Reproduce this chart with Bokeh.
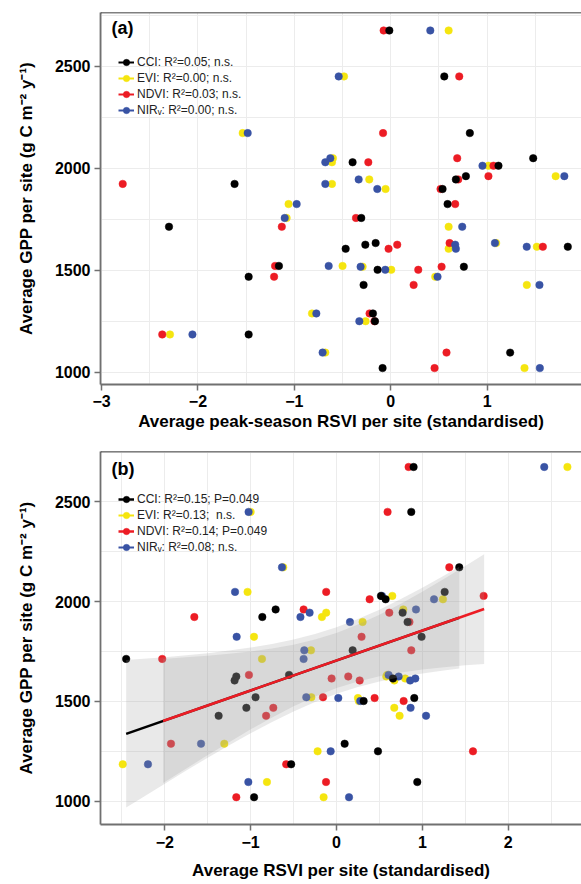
from bokeh.plotting import figure
from bokeh.models import FixedTicker, Legend, LegendItem, Span, Label
from bokeh.layouts import column
from bokeh.embed import file_html
from bokeh.resources import INLINE

# ---------------- data ----------------
indices = ["CCI", "EVI", "NDVI", "NIRv"]
colors = {"CCI": "#000000", "EVI": "#F5E50F", "NDVI": "#EC1C24", "NIRv": "#3953A4"}
draw_order = ["EVI", "NDVI", "NIRv", "CCI"]

labels_a = ["CCI: R²=0.05; n.s.", "EVI: R²=0.00; n.s.", "NDVI: R²=0.03; n.s.", "NIRᵥ: R²=0.00; n.s."]
labels_b = ["CCI: R²=0.15; P=0.049", "EVI: R²=0.13;  n.s.", "NDVI: R²=0.14; P=0.049", "NIRᵥ: R²=0.08; n.s."]

# average GPP per site (g C m-2 y-1)
gpp = [2675, 2450, 2172, 2049, 2029, 2012, 1961, 1945, 1923, 1898, 1824, 1756, 1713,
       1633, 1625, 1615, 1605, 1521, 1517, 1502, 1468, 1428, 1288, 1250, 1185, 1096, 1020]

# panel (a): average peak-season RSVI (standardised)
peak_cci = [-0.015, 0.555, 0.82, 1.477, -0.396, 1.117, 0.779, 0.675, -1.62, 0.537, 0.589, -0.306, -2.30,
            -0.157, -0.264, 1.836, -0.468, -1.16, 0.758, -0.137, -1.474, -0.282, -0.185, -0.164, -1.474, 1.238, -0.085]
peak_evi = [0.60, -0.485, -1.536, -0.60, -0.61, 1.013, 1.71, -0.223, -0.61, -0.054, -1.06, -1.08, 0.60,
            1.093, 0.63, 1.515, 0.60, -0.50, -0.292, 0.005, 0.461, 1.411, -0.817, -0.261, -2.29, -0.679, 1.387]
peak_ndvi = [-0.074, 0.71, -0.08, 0.689, -0.233, 1.065, 1.013, 0.70, -2.78, 0.516, 0.668, -0.361, -1.13,
             0.61, 0.067, 1.577, -0.023, -1.20, 0.527, 0.285, -1.21, 0.237, -0.22, -0.17, -2.37, 0.578, 0.454]
peak_nirv = [0.41, -0.54, -1.484, -0.627, -0.679, 0.951, 1.80, -0.333, -0.679, -0.14, -0.976, -1.10, 0.741,
             1.08, 0.668, 1.41, 0.675, -0.644, -0.313, -0.057, 0.485, 1.542, -0.772, -0.326, -2.057, -0.707, 1.546]

# panel (b): average RSVI (standardised)
mean_cci = [0.898, 0.871, 1.43, 1.26, 0.518, 0.572, -0.709, 0.77, -0.864, 0.828, 0.991, 0.188, -2.45,
            -0.553, -1.167, 0.658, -1.187, -0.943, 0.906, 0.316, -1.05, -1.373, 0.095, 0.483, -0.528, 0.941, -0.96]
mean_evi = [2.69, -1.00, -0.62, -1.036, 0.65, 1.24, 0.778, -0.12, -0.17, 0.304, -0.961, -0.297, -0.868,
            0.59, 0.58, 0.80, 0.674, -0.293, 0.25, 0.26, 0.673, 0.735, -1.307, -0.22, -2.49, -0.81, -0.15]
mean_ndvi = [0.84, 0.595, 1.314, -0.12, 1.714, 0.386, -0.383, 0.615, -1.656, 0.85, 0.292, 0.871, -2.03,
             -1.02, 0.137, -0.057, 0.27, -0.157, 0.444, 0.782, -0.736, -0.82, -1.928, 1.59, -0.586, -0.122, -1.167]
mean_nirv = [2.42, -1.024, -0.635, -1.182, 0.53, 1.136, 0.926, -0.313, -0.42, 0.157, -1.163, -0.375, -0.383,
             0.607, 0.724, 0.918, 0.858, -0.352, 0.021, 0.277, 0.863, 1.043, -1.578, -0.068, -2.196, -1.027, 0.146]

# fitted lines and confidence ribbons in panel (b)
cci_fit_x = [-2.45, 1.43]
cci_fit_y = [1337.5, 1919.5]
ndvi_fit_x = [-2.02, 1.72]
ndvi_fit_y = [1402, 1963]
cci_band_x = [-2.45, -2.25, -2.0, -1.75, -1.5, -1.25, -1.0, -0.75, -0.5, -0.25, 0.0, 0.25, 0.5, 0.75, 1.0, 1.25, 1.43]
cci_band_lo = [968, 1021, 1088, 1154, 1218, 1280, 1340, 1397, 1450, 1497, 1538, 1572, 1600, 1622, 1640, 1655, 1665]
cci_band_hi = [1708, 1714, 1722, 1732, 1742, 1755, 1770, 1788, 1810, 1838, 1872, 1913, 1960, 2013, 2070, 2130, 2175]
ndvi_band_x = [-2.02, -1.75, -1.5, -1.25, -1.0, -0.75, -0.5, -0.25, 0.0, 0.25, 0.5, 0.75, 1.0, 1.25, 1.5, 1.72]
ndvi_band_lo = [1091, 1164, 1231, 1296, 1360, 1420, 1476, 1525, 1567, 1600, 1626, 1645, 1660, 1671, 1681, 1688]
ndvi_band_hi = [1713, 1721, 1729, 1739, 1750, 1765, 1784, 1810, 1843, 1885, 1934, 1990, 2050, 2114, 2179, 2238]

y_ticks = [1000, 1500, 2000, 2500]
y_minor = [1250, 1750, 2250, 2750]
xa_ticks = [-3, -2, -1, 0, 1, 2]
xa_minor = [-2.5, -1.5, -0.5, 0.5, 1.5]
xb_ticks = [-2, -1, 0, 1, 2]
xb_minor = [-2.5, -1.5, -0.5, 0.5, 1.5, 2.5]

ylab = "Average GPP per site (g C m⁻² y⁻¹)"
xlab_a = "Average peak-season RSVI per site (standardised)"
xlab_b = "Average RSVI per site (standardised)"

FONT = "Liberation Sans"
AX = "#707070"
GRID = "#ececec"
NAN = float("nan")


def make_fig(xr, yr, height, btop, bbot, xt, xm, xlab, x_lab_standoff, x_tick_standoff):
    p = figure(width=581, height=height, x_range=xr, y_range=yr,
               output_backend="svg", toolbar_location=None,
               min_border_left=100, min_border_right=0,
               min_border_top=btop, min_border_bottom=bbot)
    p.outline_line_color = None
    p.background_fill_color = "white"
    p.border_fill_color = "white"
    p.xaxis.ticker = FixedTicker(ticks=xt, minor_ticks=xm)
    p.yaxis.ticker = FixedTicker(ticks=y_ticks, minor_ticks=y_minor)
    for g in (p.xgrid, p.ygrid):
        g.grid_line_color = GRID
        g.grid_line_width = 1
        g.minor_grid_line_color = GRID
        g.minor_grid_line_width = 1
    for ax in (p.xaxis, p.yaxis):
        ax.axis_line_color = AX
        ax.axis_line_width = 1.8
        ax.major_tick_line_color = AX
        ax.major_tick_line_width = 1.5
        ax.major_tick_out = 6
        ax.major_tick_in = 0
        ax.minor_tick_line_color = None
        ax.major_label_text_font = FONT
        ax.major_label_text_font_style = "bold"
        ax.major_label_text_font_size = "16px"
        ax.major_label_text_color = "black"
        ax.axis_label_text_font = FONT
        ax.axis_label_text_font_style = "bold"
        ax.axis_label_text_font_size = "17px"
        ax.axis_label_text_color = "black"
    p.xaxis.axis_label = xlab
    p.yaxis.axis_label = ylab
    p.xaxis.axis_label_standoff = x_lab_standoff
    p.xaxis.major_label_standoff = x_tick_standoff
    p.yaxis.axis_label_standoff = 16
    p.yaxis.major_label_standoff = 4
    p.add_layout(Span(location=yr[1], dimension="width", line_color="black", line_width=1.5))
    return p


def add_points(p, xs):
    rs = {}
    for k in draw_order:
        rs[k] = p.scatter(xs[k], gpp, size=7.5, fill_color=colors[k], line_color=colors[k],
                          line_width=0.5)
    return rs


def key_line(p, k):
    # legend-only line (ggplot key shows a short line through the point)
    return p.line([NAN, NAN], [NAN, NAN], line_color=colors[k], line_width=2)


def add_legend(p, rs, lines, labels, vy):
    items = []
    for k, lab in zip(indices, labels):
        items.append(LegendItem(label=lab, renderers=[lines[k], rs[k]]))
    leg = Legend(items=items, location=(18, vy), orientation="vertical",
                 padding=0, spacing=0, margin=0,
                 glyph_width=16, glyph_height=16, label_height=16, label_standoff=3,
                 label_text_font=FONT, label_text_font_size="12px", label_text_color="#222222",
                 border_line_color=None, background_fill_alpha=0)
    p.add_layout(leg)


# ---------------- panel (a) ----------------
pa = make_fig((-3.0104, 1.978), (939.7, 2763.2), 440, 12, 56,
              xa_ticks, xa_minor, xlab_a, 2, 4)
xs_a = {"CCI": peak_cci, "EVI": peak_evi, "NDVI": peak_ndvi, "NIRv": peak_nirv}
rs_a = add_points(pa, xs_a)
lines_a = {k: key_line(pa, k) for k in indices}
add_legend(pa, rs_a, lines_a, labels_a, 266)
pa.add_layout(Label(x=11, y=357, x_units="screen", y_units="screen", text="(a)",
                    text_font=FONT, text_font_style="bold", text_font_size="18px",
                    text_baseline="middle", text_align="left", text_color="black"))

# ---------------- panel (b) ----------------
pb = make_fig((-2.749, 2.854), (883.2, 2752.6), 444, 11, 60,
              xb_ticks, xb_minor, xlab_b, 10, 5)
xs_b = {"CCI": mean_cci, "EVI": mean_evi, "NDVI": mean_ndvi, "NIRv": mean_nirv}
rs_b = add_points(pb, xs_b)
pb.varea(x=cci_band_x, y1=cci_band_lo, y2=cci_band_hi, fill_color="#999999", fill_alpha=0.22)
l_cci = pb.line(cci_fit_x, cci_fit_y, line_color=colors["CCI"], line_width=2.5)
pb.varea(x=ndvi_band_x, y1=ndvi_band_lo, y2=ndvi_band_hi, fill_color="#999999", fill_alpha=0.22)
l_ndvi = pb.line(ndvi_fit_x, ndvi_fit_y, line_color=colors["NDVI"], line_width=2.5)
lines_b = {"CCI": l_cci, "NDVI": l_ndvi,
           "EVI": key_line(pb, "EVI"),
           "NIRv": key_line(pb, "NIRv")}
add_legend(pb, rs_b, lines_b, labels_b, 269)
pb.add_layout(Label(x=11, y=356, x_units="screen", y_units="screen", text="(b)",
                    text_font=FONT, text_font_style="bold", text_font_size="18px",
                    text_baseline="middle", text_align="left", text_color="black"))

layout = column(pa, pb)
open("out.html", "w").write(file_html(layout, INLINE))
